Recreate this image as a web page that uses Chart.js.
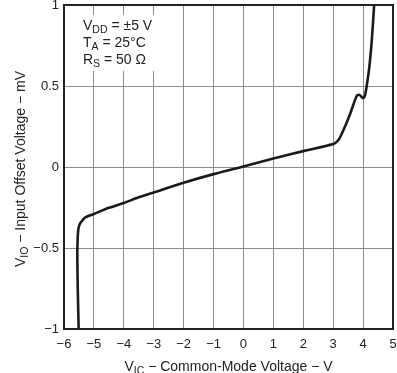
<!DOCTYPE html>
<html>
<head>
<meta charset="utf-8">
<script src="https://cdn.jsdelivr.net/npm/chart.js@4/dist/chart.umd.min.js"></script>
<style>
  html, body { margin: 0; padding: 0; background: #fff; }
  #wrap { width: 397px; height: 373px; position: relative; }
</style>
</head>
<body>
<div id="wrap"><canvas id="c" width="397" height="373"></canvas></div>
<script>
// Common-mode voltage (V) and input offset voltage (mV)
const vicValues = [-5.51, -5.54, -5.555, -5.545, -5.525, -5.49, -5.43, -5.3, -5.0, -4.5, -4.0, -3.5, -3.0, -2.0, -1.0, 0.0, 1.0, 2.0, 3.0, 3.17, 3.3, 3.55, 3.79, 3.88, 4.0, 4.06, 4.12, 4.21, 4.29, 4.37];
const vioValues = [-1.0, -0.75, -0.55, -0.45, -0.39, -0.36, -0.34, -0.312, -0.29, -0.252, -0.222, -0.187, -0.157, -0.097, -0.044, 0.003, 0.052, 0.098, 0.142, 0.165, 0.21, 0.32, 0.44, 0.445, 0.425, 0.44, 0.5, 0.62, 0.78, 1.0];
const xTicks = [-6, -5, -4, -3, -2, -1, 0, 1, 2, 3, 4, 5];
const yTicks = [-1, -0.5, 0, 0.5, 1];
const annotationLines = [
  [["V", false], ["DD", true], [" = \u00B15 V", false]],
  [["T", false], ["A", true], [" = 25\u00B0C", false]],
  [["R", false], ["S", true], [" = 50 \u03A9", false]]
];
const xTitle = [["V", false], ["IC", true], [" \u2212 Common-Mode Voltage \u2212 V", false]];
const yTitle = [["V", false], ["IO", true], [" \u2212 Input Offset Voltage \u2212 mV", false]];

const FONT = '"Liberation Sans", Arial, Helvetica, sans-serif';
const points = vicValues.map((x, i) => ({ x: x, y: vioValues[i] }));
const fmt = v => String(v).replace('-', '\u2212');

function partsWidth(ctx, parts, size, subSize) {
  let w = 0;
  for (const [t, sub] of parts) {
    ctx.font = (sub ? subSize : size) + 'px ' + FONT;
    w += ctx.measureText(t).width;
  }
  return w;
}
function drawParts(ctx, parts, x, y, size, subSize) {
  let cx = x;
  ctx.textBaseline = 'alphabetic';
  ctx.textAlign = 'left';
  for (const [t, sub] of parts) {
    ctx.font = (sub ? subSize : size) + 'px ' + FONT;
    ctx.fillText(t, cx, sub ? y + 3 : y);
    cx += ctx.measureText(t).width;
  }
}

const decor = {
  id: 'decor',
  beforeDatasetsDraw(chart) {
    const ctx = chart.ctx;
    const a = chart.chartArea;
    ctx.save();
    // white box behind the conditions text
    ctx.fillStyle = '#fff';
    ctx.fillRect(a.left + 1, 15, 100, 56);
    // frame
    ctx.strokeStyle = '#222';
    ctx.lineWidth = 2;
    ctx.strokeRect(a.left, a.top, a.right - a.left, a.bottom - a.top);
    // annotation
    ctx.fillStyle = '#222';
    const base = [29.5, 46.5, 63.5];
    annotationLines.forEach((parts, i) => drawParts(ctx, parts, 83, base[i], 14, 10.5));
    ctx.restore();
  },
  afterDraw(chart) {
    const ctx = chart.ctx;
    const a = chart.chartArea;
    ctx.save();
    ctx.fillStyle = '#222';
    // x title
    const wx = partsWidth(ctx, xTitle, 14, 10.5);
    drawParts(ctx, xTitle, (a.left + a.right) / 2 - wx / 2, 371, 14, 10.5);
    // y title
    const wy = partsWidth(ctx, yTitle, 14, 10.5);
    ctx.translate(25, (a.top + a.bottom) / 2 + 2);
    ctx.rotate(-Math.PI / 2);
    drawParts(ctx, yTitle, -wy / 2, 0, 14, 10.5);
    ctx.restore();
  }
};

new Chart(document.getElementById('c'), {
  type: 'scatter',
  data: {
    datasets: [{
      data: points,
      showLine: true,
      borderColor: '#1a1a1a',
      borderWidth: 2.6,
      pointRadius: 0,
      tension: 0.25,
      fill: false
    }]
  },
  options: {
    responsive: false,
    animation: false,
    devicePixelRatio: 1,
    layout: { padding: { top: 5, right: 4, left: 0, bottom: 0 } },
    plugins: { legend: { display: false }, tooltip: { enabled: false } },
    scales: {
      x: {
        type: 'linear',
        min: -6, max: 5,
        afterBuildTicks: s => { s.ticks = xTicks.map(v => ({ value: v })); },
        ticks: { callback: fmt, padding: 8, color: '#222', font: { family: FONT, size: 13 }, maxRotation: 0 },
        grid: { color: '#8c8c8c', lineWidth: 1, drawTicks: false },
        border: { display: true, color: '#222', width: 2 },
        afterFit: s => { s.height = 44; s.paddingLeft = 0; s.paddingRight = 0; }
      },
      y: {
        type: 'linear',
        min: -1, max: 1,
        afterBuildTicks: s => { s.ticks = yTicks.map(v => ({ value: v })); },
        ticks: { callback: fmt, padding: 5, color: '#222', font: { family: FONT, size: 13 } },
        grid: { color: '#8c8c8c', lineWidth: 1, drawTicks: false },
        border: { display: true, color: '#222', width: 2 },
        afterFit: s => { s.width = 64; s.paddingTop = 0; s.paddingBottom = 0; }
      }
    }
  },
  plugins: [decor]
});
</script>
</body>
</html>
